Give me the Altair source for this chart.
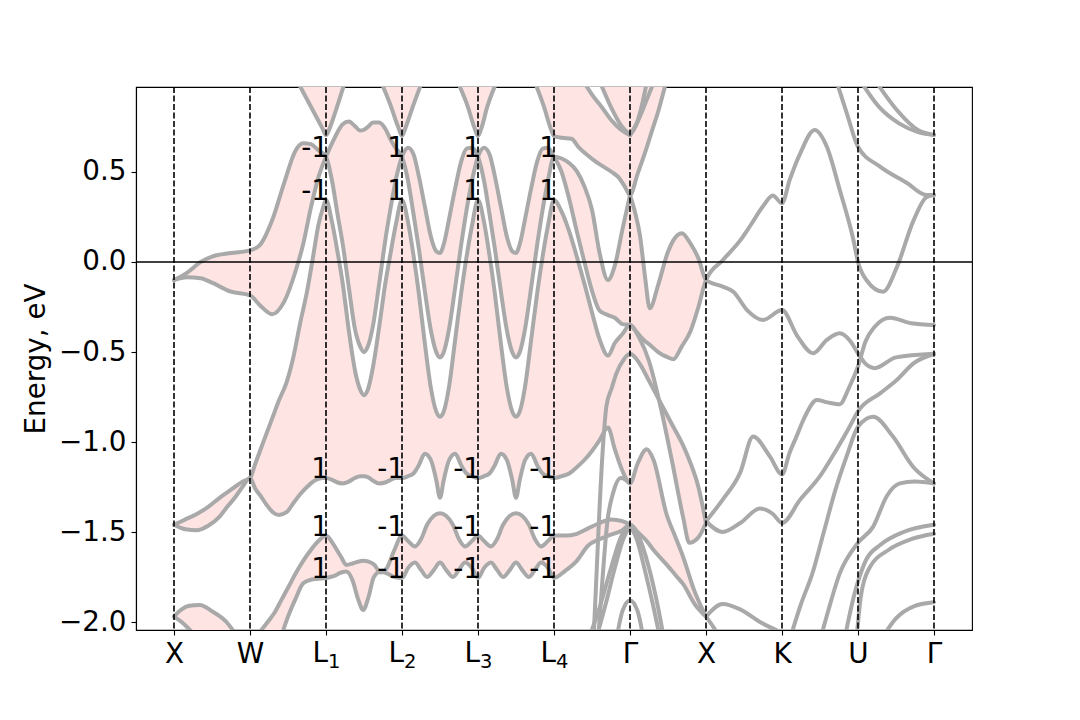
import json
import altair as alt
import pandas as pd

# ---------------- axes ----------------
TICK_POS = [0, 1, 2, 3, 4, 5, 6, 7, 8, 9, 10]
TICK_LABELS = ["X", "W", "L", "L", "L", "L", "\u0393", "X", "K", "U", "\u0393"]
TICK_SUBS = ["", "", "1", "2", "3", "4", "", "", "", "", ""]
Y_TICKS = [-2.0, -1.5, -1.0, -0.5, 0.0, 0.5]
X_DOMAIN = [-0.5, 10.5]
Y_DOMAIN = [-2.0444, 0.9722]
TOP = 1.05  # ceiling of shaded regions (clipped by the frame)

# ---------------- bands, X -> W -> L1 ----------------
x_XL1 = [0.0, 0.17, 0.35, 0.5, 0.75, 1.0, 1.13, 1.29, 1.45, 1.6, 1.7, 1.8, 1.9, 2.0]
a1_XL1 = [-0.10, -0.06, 0.0, 0.03, 0.05, 0.065, 0.094, 0.23, 0.44, 0.62, 0.66, 0.655, 0.62, 0.585]
a2_XL1 = [-0.10, -0.085, -0.09, -0.115, -0.165, -0.185, -0.24, -0.29, -0.22, -0.05, 0.1, 0.3, 0.47, 0.585]

x_lens = [0.0, 0.15, 0.3, 0.45, 0.6, 0.7, 0.8, 0.9, 1.0]
lens_up = [-1.46, -1.43, -1.40, -1.36, -1.31, -1.28, -1.25, -1.22, -1.2]
lens_lo = [-1.46, -1.485, -1.49, -1.465, -1.415, -1.36, -1.31, -1.25, -1.2]

x_WL1 = [1.0, 1.07, 1.14, 1.22, 1.3, 1.38, 1.48, 1.57, 1.66, 1.75, 1.83, 1.9, 1.96, 2.0]
b3_WL1 = [-1.2, -1.12, -1.04, -0.95, -0.86, -0.77, -0.67, -0.53, -0.34, -0.165, 0.03, 0.205, 0.3, 0.344]
b4_WL1 = [-1.2, -1.26, -1.30, -1.35, -1.39, -1.405, -1.39, -1.34, -1.29, -1.25, -1.22, -1.205, -1.2, -1.2]

x_cWL1 = [1.14, 1.25, 1.32, 1.41, 1.5, 1.6, 1.7, 1.8, 1.9, 2.0]
c_up_WL1 = [-2.05, -1.99, -1.95, -1.88, -1.81, -1.73, -1.66, -1.6, -1.55, -1.52]
c_lo_WL1 = [-2.2, -2.2, -2.2, -2.08, -1.97, -1.87, -1.785, -1.765, -1.76, -1.755]

x_D = [0.0, 0.1, 0.2, 0.34, 0.5, 0.69, 0.8]
d_up = [-1.97, -1.93, -1.91, -1.905, -1.94, -2.0, -2.06]
d_lo = [-1.97, -2.0, -2.04, -2.1, -2.15, -2.15, -2.15]

# ---------------- L1 -> L2 ----------------
x_12 = [2.0, 2.08, 2.15, 2.22, 2.3, 2.38, 2.45, 2.5, 2.55, 2.62, 2.7, 2.78, 2.85, 2.92, 3.0]
hump_12 = [0.585, 0.66, 0.72, 0.765, 0.78, 0.755, 0.73, 0.735, 0.75, 0.775, 0.775, 0.74, 0.68, 0.63, 0.585]
inner_12 = [0.585, 0.45, 0.27, 0.1, -0.14, -0.37, -0.47, -0.50, -0.47, -0.35, -0.12, 0.12, 0.3, 0.46, 0.585]
outer_12 = [0.344, 0.22, 0.06, -0.12, -0.38, -0.6, -0.71, -0.74, -0.71, -0.58, -0.36, -0.12, 0.05, 0.21, 0.344]
b4_12 = [-1.2, -1.21, -1.225, -1.23, -1.22, -1.2, -1.19, -1.19, -1.195, -1.215, -1.23, -1.225, -1.21, -1.2, -1.2]

x_c12 = [2.0, 2.1, 2.2, 2.27, 2.35, 2.42, 2.49, 2.56, 2.63, 2.72, 2.8, 2.9, 3.0]
c_up_12 = [-1.52, -1.57, -1.64, -1.683, -1.675, -1.665, -1.66, -1.665, -1.68, -1.725, -1.7, -1.6, -1.52]
c_lo_12 = [-1.755, -1.745, -1.725, -1.72, -1.77, -1.87, -1.933, -1.86, -1.75, -1.72, -1.73, -1.75, -1.755]

# ---------------- L2 -> L3 ----------------
x_23 = [3.0, 3.08, 3.15, 3.22, 3.3, 3.38, 3.45, 3.5, 3.55, 3.62, 3.7, 3.78, 3.85, 3.92, 4.0]
u_23 = [0.585, 0.635, 0.6, 0.48, 0.31, 0.14, 0.06, 0.05, 0.1, 0.24, 0.41, 0.56, 0.63, 0.635, 0.585]
inner_23 = [0.585, 0.45, 0.27, 0.08, -0.16, -0.38, -0.5, -0.53, -0.5, -0.37, -0.14, 0.1, 0.29, 0.45, 0.585]
outer_23 = [0.344, 0.22, 0.04, -0.17, -0.45, -0.7, -0.83, -0.86, -0.83, -0.69, -0.43, -0.17, 0.03, 0.2, 0.344]
b4_23 = [-1.2, -1.19, -1.175, -1.13, -1.065, -1.1, -1.21, -1.31, -1.21, -1.1, -1.065, -1.13, -1.175, -1.19, -1.2]

x_c23 = [3.0, 3.08, 3.17, 3.25, 3.33, 3.42, 3.5, 3.58, 3.67, 3.75, 3.83, 3.92, 4.0]
c_up_23 = [-1.52, -1.55, -1.58, -1.54, -1.46, -1.41, -1.396, -1.41, -1.46, -1.54, -1.58, -1.55, -1.52]
c_lo_23 = [-1.755, -1.70, -1.67, -1.71, -1.75, -1.71, -1.67, -1.71, -1.75, -1.71, -1.67, -1.70, -1.755]

# ---------------- L3 -> L4 ----------------
x_34 = [4.0, 4.08, 4.15, 4.22, 4.3, 4.38, 4.45, 4.5, 4.55, 4.62, 4.7, 4.78, 4.85, 4.92, 5.0]
u_34 = [0.585, 0.635, 0.6, 0.48, 0.31, 0.14, 0.06, 0.05, 0.1, 0.24, 0.41, 0.56, 0.63, 0.635, 0.585]
inner_34 = [0.585, 0.45, 0.27, 0.08, -0.16, -0.38, -0.5, -0.53, -0.5, -0.37, -0.14, 0.1, 0.29, 0.45, 0.585]
outer_34 = [0.344, 0.22, 0.04, -0.17, -0.45, -0.7, -0.83, -0.86, -0.83, -0.69, -0.43, -0.17, 0.03, 0.2, 0.344]
b4_34 = [-1.2, -1.19, -1.175, -1.13, -1.065, -1.1, -1.21, -1.31, -1.21, -1.1, -1.065, -1.13, -1.175, -1.19, -1.2]

x_c34 = [4.0, 4.08, 4.17, 4.25, 4.33, 4.42, 4.5, 4.58, 4.67, 4.75, 4.83, 4.92, 5.0]
c_up_34 = [-1.52, -1.55, -1.58, -1.54, -1.46, -1.41, -1.396, -1.41, -1.46, -1.54, -1.58, -1.55, -1.52]
c_lo_34 = [-1.755, -1.70, -1.67, -1.71, -1.75, -1.71, -1.67, -1.71, -1.75, -1.71, -1.67, -1.70, -1.755]

# ---------------- L4 -> Gamma ----------------
x_4G = [5.0, 5.1, 5.2, 5.3, 5.4, 5.5, 5.6, 5.71, 5.8, 5.9, 6.0]
lb_4G = [0.585, 0.575, 0.55, 0.505, 0.42, 0.29, 0.05, -0.1, -0.02, 0.18, 0.372]
ld_4G = [0.585, 0.5, 0.35, 0.17, 0.0, -0.16, -0.27, -0.295, -0.31, -0.345, -0.35]
lc_4G = [0.344, 0.28, 0.17, 0.03, -0.12, -0.28, -0.43, -0.52, -0.45, -0.4, -0.35]
b4_4G = [-1.2, -1.19, -1.175, -1.14, -1.1, -1.05, -0.99, -0.92, -1.04, -1.16, -1.23]

x_c4G = [5.0, 5.15, 5.3, 5.45, 5.6, 5.75, 5.9, 6.0]
c_up_4G = [-1.52, -1.52, -1.51, -1.48, -1.45, -1.43, -1.44, -1.46]
c_lo_4G = [-1.755, -1.715, -1.66, -1.575, -1.54, -1.515, -1.49, -1.46]

# conduction band: V at L4, flat part, V at Gamma (0.37)
x_top4 = [4.77, 4.87, 4.95, 5.0, 5.1, 5.23, 5.32, 5.45, 5.54, 5.65, 5.76, 5.85, 5.93, 6.0, 6.1, 6.2, 6.29, 6.37, 6.46]
top4 = [0.975, 0.86, 0.75, 0.70, 0.69, 0.685, 0.64, 0.59, 0.56, 0.53, 0.50, 0.47, 0.42, 0.372, 0.49, 0.61, 0.73, 0.835, 0.975]

# V shapes at L1, L2, L3
x_v1 = [1.66, 1.83, 1.95, 2.0, 2.05, 2.12, 2.23]
v1 = [0.975, 0.84, 0.745, 0.705, 0.745, 0.83, 0.975]
x_v2 = [2.75, 2.85, 2.95, 3.0, 3.05, 3.14, 3.24]
v2 = [0.975, 0.87, 0.75, 0.70, 0.75, 0.86, 0.975]
x_v3 = [3.76, 3.86, 3.95, 4.0, 4.05, 4.12, 4.22]
v3 = [0.975, 0.87, 0.75, 0.70, 0.75, 0.86, 0.975]

# U at Gamma (0.705)
x_arm1 = [5.43, 5.5, 5.63, 5.75, 5.88, 6.0]
arm1 = [0.975, 0.93, 0.86, 0.79, 0.735, 0.705]
arm2_ceiling = [TOP, TOP, 0.975, 0.86, 0.76, 0.705]
x_arm2 = [5.63, 5.75, 5.88, 6.0]
arm2 = [0.975, 0.86, 0.76, 0.705]
x_arm3 = [6.0, 6.08, 6.15, 6.21]
arm3 = [0.705, 0.76, 0.86, 0.975]
x_arm4 = [6.0, 6.1, 6.2, 6.29]
arm4 = [0.705, 0.78, 0.88, 0.975]

# ---------------- Gamma -> X ----------------
x_GX = [6.0, 6.07, 6.13, 6.2, 6.26, 6.37, 6.5, 6.57, 6.68, 6.8, 6.9, 7.0]
down_GX = [0.372, 0.27, 0.15, -0.09, -0.257, -0.128, 0.057, 0.12, 0.16, 0.1, 0.02, -0.1]
p_GX = [-0.35, -0.38, -0.41, -0.44, -0.46, -0.5, -0.53, -0.54, -0.47, -0.38, -0.25, -0.1]

x_wedge = [6.0, 6.12, 6.25, 6.4, 6.55, 6.7, 6.78, 6.9, 7.0]
wedge_b = [-0.51, -0.56, -0.66, -0.78, -0.9, -1.02, -1.1, -1.25, -1.45]
wedge_a = [-0.35, -0.42, -0.55, -0.8, -1.1, -1.42, -1.56, -1.53, -1.45]

x_low_GX = [6.0, 6.1, 6.22, 6.31, 6.48, 6.6, 6.7, 6.85, 7.0]
b4_GX = [-1.23, -1.12, -1.04, -1.1, -1.4, -1.53, -1.64, -1.83, -1.97]
c_GX = [-1.46, -1.5, -1.55, -1.6, -1.68, -1.74, -1.79, -1.9, -1.97]

x_archL = [5.52, 5.56, 5.6, 5.65, 5.69, 5.76, 5.82, 5.92, 6.0]
archL = [-2.1, -1.73, -1.36, -0.99, -0.8, -0.7, -0.62, -0.54, -0.51]
x_gm = [5.58, 5.64, 5.7, 5.78, 5.88, 6.0]
gm = [-2.1, -1.75, -1.45, -1.28, -1.2, -1.23]
x_g1 = [5.45, 5.6, 5.75, 5.88, 6.0, 6.12, 6.25, 6.35, 6.45]
g1 = [-2.1, -1.92, -1.7, -1.53, -1.46, -1.53, -1.7, -1.88, -2.1]
x_g2 = [5.55, 5.68, 5.8, 5.92, 6.0, 6.08, 6.2, 6.3, 6.4]
g2 = [-2.1, -1.9, -1.7, -1.53, -1.48, -1.53, -1.72, -1.9, -2.1]
x_g3 = [5.82, 5.9, 6.0, 6.1, 6.18]
g3 = [-2.1, -1.94, -1.88, -1.94, -2.1]

# ---------------- X -> K -> U -> Gamma ----------------
x_r1 = [7.0, 7.22, 7.45, 7.58, 7.75, 7.88, 8.0, 8.1, 8.24, 8.43, 8.59, 8.76, 8.94, 9.0, 9.11, 9.33, 9.51, 9.73, 9.9, 10.0]
r1 = [-0.1, 0.01, 0.12, 0.2, 0.31, 0.37, 0.326, 0.455, 0.604, 0.733, 0.64, 0.4, 0.122, 0.0, -0.1, -0.165, -0.03, 0.23, 0.36, 0.372]
x_r2 = [7.0, 7.22, 7.36, 7.54, 7.75, 8.0, 8.2, 8.41, 8.59, 8.76, 8.9, 9.0, 9.11, 9.22, 9.5, 10.0]
r2 = [-0.1, -0.137, -0.165, -0.267, -0.322, -0.267, -0.41, -0.507, -0.433, -0.396, -0.44, -0.507, -0.57, -0.59, -0.53, -0.51]
x_r3 = [7.0, 7.22, 7.45, 7.62, 7.84, 8.0, 8.1, 8.19, 8.3, 8.46, 8.6, 8.76, 8.88, 9.0, 9.1, 9.22, 9.42, 9.7, 10.0]
r3 = [-1.44, -1.32, -1.17, -0.97, -1.08, -1.18, -1.06, -0.97, -0.86, -0.767, -0.78, -0.79, -0.7, -0.58, -0.44, -0.36, -0.31, -0.34, -0.35]
x_r4 = [7.0, 7.22, 7.45, 7.71, 7.88, 8.0, 8.24, 8.5, 8.72, 8.89, 9.0, 9.29, 9.51, 9.73, 10.0]
r4 = [-1.44, -1.5, -1.45, -1.37, -1.40, -1.45, -1.32, -1.19, -1.04, -0.915, -0.83, -0.73, -0.656, -0.563, -0.511]
x_r5 = [8.1, 8.25, 8.4, 8.55, 8.7, 8.85, 9.0, 9.2, 9.46, 9.73, 10.0]
r5 = [-2.1, -1.9, -1.73, -1.5, -1.27, -1.08, -0.915, -0.86, -0.97, -1.14, -1.23]
x_r6 = [8.5, 8.6, 8.76, 9.0, 9.2, 9.38, 9.55, 9.75, 10.0]
r6 = [-2.1, -1.95, -1.73, -1.56, -1.47, -1.3, -1.23, -1.22, -1.23]
x_r7 = [8.82, 8.95, 9.1, 9.3, 9.6, 10.0]
r7 = [-2.1, -1.85, -1.66, -1.57, -1.5, -1.46]
x_r8 = [8.98, 9.04, 9.15, 9.4, 9.7, 10.0]
r8 = [-2.1, -1.85, -1.7, -1.6, -1.54, -1.51]
x_r9 = [9.3, 9.5, 9.75, 10.0]
r9 = [-2.1, -1.98, -1.91, -1.89]
x_r10 = [7.0, 7.22, 7.45, 7.71, 8.0]
r10 = [-1.97, -1.9, -1.93, -2.0, -2.06]
x_r11 = [7.0, 7.1, 7.2]
r11 = [-1.97, -2.03, -2.1]
x_r12 = [8.72, 8.85, 9.0, 9.29, 9.64, 9.9, 10.0]
r12 = [1.0, 0.83, 0.64, 0.53, 0.44, 0.372, 0.372]
x_r13 = [9.04, 9.28, 9.54, 9.8, 10.0]
r13 = [1.0, 0.86, 0.77, 0.72, 0.706]
x_r14 = [9.24, 9.5, 9.8, 10.0]
r14 = [1.0, 0.85, 0.73, 0.706]

# ---------------- annotations ----------------
label_x = [2, 2, 3, 3, 4, 4, 5, 5, 2, 2, 2, 3, 3, 3, 4, 4, 4, 5, 5, 5]
label_E = [0.585, 0.344, 0.585, 0.344, 0.585, 0.344, 0.585, 0.344,
           -1.2, -1.52, -1.755, -1.2, -1.52, -1.755, -1.2, -1.52, -1.755, -1.2, -1.52, -1.755]
label_text = ["-1", "-1", "1", "1", "1", "1", "1", "1",
              "1", "1", "1", "-1", "-1", "-1", "-1", "-1", "-1", "-1", "-1", "-1"]


# ---------------- tables ----------------
def chain(*parts):
    out = []
    for xs, ys in parts:
        for x, y in zip(xs, ys):
            if out and abs(out[-1][0] - x) < 1e-9:
                continue
            out.append((x, y))
    return out


lines = {
    "A1": chain((x_XL1, a1_XL1), (x_12, inner_12), (x_23, u_23), (x_34, inner_34), (x_4G, lb_4G)),
    "A2": chain((x_XL1, a2_XL1), (x_12, hump_12), (x_23, inner_23), (x_34, u_34), (x_4G, ld_4G),
                (x_GX, p_GX), (x_r1, r1)),
    "B1": chain((x_lens, lens_up), (x_WL1, b3_WL1), (x_12, outer_12), (x_23, outer_23), (x_34, outer_34),
                (x_4G, lc_4G), (x_wedge, wedge_a)),
    "B2": chain((x_lens, lens_lo), (x_WL1, b4_WL1), (x_12, b4_12), (x_23, b4_23), (x_34, b4_34),
                (x_4G, b4_4G), (x_low_GX, b4_GX)),
    "C1": chain((x_cWL1, c_up_WL1), (x_c12, c_up_12), (x_c23, c_up_23), (x_c34, c_up_34), (x_c4G, c_up_4G)),
    "C2": chain((x_cWL1, c_lo_WL1), (x_c12, c_lo_12), (x_c23, c_lo_23), (x_c34, c_lo_34), (x_c4G, c_lo_4G),
                (x_low_GX, c_GX)),
    "D1": chain((x_D, d_up)),
    "D2": chain((x_D, d_lo)),
    "T4": chain((x_top4, top4)),
    "DN": chain((x_GX, down_GX), (x_r2, r2)),
    "V1": chain((x_v1, v1)),
    "V2": chain((x_v2, v2)),
    "V3": chain((x_v3, v3)),
    "ARM1": chain((x_arm1, arm1)),
    "ARM2": chain((x_arm2, arm2)),
    "ARM3": chain((x_arm3, arm3)),
    "ARM4": chain((x_arm4, arm4)),
    "ARCH": chain((x_archL, archL), (x_wedge, wedge_b)),
    "GM": chain((x_gm, gm)),
    "G1": chain((x_g1, g1)),
    "G2": chain((x_g2, g2)),
    "G3": chain((x_g3, g3)),
    "R3": chain((x_r3, r3)),
    "R4": chain((x_r4, r4)),
    "R5": chain((x_r5, r5)),
    "R6": chain((x_r6, r6)),
    "R7": chain((x_r7, r7)),
    "R8": chain((x_r8, r8)),
    "R9": chain((x_r9, r9)),
    "R10": chain((x_r10, r10)),
    "R11": chain((x_r11, r11)),
    "R12": chain((x_r12, r12)),
    "R13": chain((x_r13, r13)),
    "R14": chain((x_r14, r14)),
}

line_rows = []
for name, pts in lines.items():
    for i, (x, e) in enumerate(pts):
        line_rows.append({"band": name, "x": x, "E": e, "i": i})
lines_df = pd.DataFrame(line_rows)

pink_regions = {
    "pA0": (x_XL1, a2_XL1, a1_XL1),
    "pA1": (x_12, inner_12, hump_12),
    "pA2": (x_23, inner_23, u_23),
    "pA3": (x_34, inner_34, u_34),
    "pA4": (x_4G, ld_4G, lb_4G),
    "pA5": (x_GX, p_GX, down_GX),
    "pB0": (x_lens, lens_lo, lens_up),
    "pB1": (x_WL1, b4_WL1, b3_WL1),
    "pB2": (x_12, b4_12, outer_12),
    "pB3": (x_23, b4_23, outer_23),
    "pB4": (x_34, b4_34, outer_34),
    "pB5": (x_4G, b4_4G, lc_4G),
    "pW": (x_wedge, wedge_a, wedge_b),
    "pC0": (x_cWL1, c_lo_WL1, c_up_WL1),
    "pC1": (x_c12, c_lo_12, c_up_12),
    "pC2": (x_c23, c_lo_23, c_up_23),
    "pC3": (x_c34, c_lo_34, c_up_34),
    "pC4": (x_c4G, c_lo_4G, c_up_4G),
    "pC5": (x_low_GX, c_GX, b4_GX),
    "pD": (x_D, d_lo, d_up),
    "pV1": (x_v1, v1, [TOP] * len(x_v1)),
    "pV2": (x_v2, v2, [TOP] * len(x_v2)),
    "pV3": (x_v3, v3, [TOP] * len(x_v3)),
    "pT4": (x_top4, top4, [TOP] * len(x_top4)),
}
white_regions = {
    "wU": (x_arm1, arm1, arm2_ceiling),
}

# ---------------- chart ----------------
FONT = "DejaVu Sans"
FS = 27.8
x_scale = alt.Scale(domain=X_DOMAIN, nice=False, zero=False)
y_scale = alt.Scale(domain=Y_DOMAIN, nice=False, zero=False)
plain_labels = [lab if sub == "" else "" for lab, sub in zip(TICK_LABELS, TICK_SUBS)]
x_axis = alt.Axis(values=TICK_POS, title=None, grid=False,
                  labelExpr=json.dumps(plain_labels) + "[datum.value]",
                  labelFontSize=FS, tickSize=5, labelPadding=5,
                  labelFlush=False, labelOverlap=False, labelBound=False)
y_axis = alt.Axis(values=Y_TICKS, title="Energy, eV", grid=False,
                  labelExpr="replace(format(datum.value, '.1f'), '-', '\u2212')",
                  labelFontSize=FS, titleFontSize=FS, tickSize=5, labelPadding=5,
                  titlePadding=8, labelFlush=False, labelOverlap=False)


def X(field="x"):
    return alt.X(f"{field}:Q", scale=x_scale, axis=x_axis)


def Y(field="E"):
    return alt.Y(f"{field}:Q", scale=y_scale, axis=y_axis)


def area_layer(xs, lo, hi, color):
    df = pd.DataFrame({"x": xs, "lo": lo, "hi": hi})
    return alt.Chart(df).mark_area(color=color, opacity=1, interpolate="monotone",
                                   clip=True, orient="vertical").encode(
        x=X(), y=Y("lo"), y2=alt.Y2("hi:Q"))


fill_layers = [area_layer(xs, lo, hi, "#ffe4e4") for (xs, lo, hi) in pink_regions.values()]
fill_layers += [area_layer(xs, lo, hi, "white") for (xs, lo, hi) in white_regions.values()]

vlines_df = pd.DataFrame({"x": TICK_POS})
zero_df = pd.DataFrame({"E": [0.0]})
labels_df = pd.DataFrame({"x": label_x, "E": label_E, "text": label_text})
sub_df = pd.DataFrame({
    "x": [p for p, s in zip(TICK_POS, TICK_SUBS) if s],
    "E": [Y_DOMAIN[0]] * sum(1 for s in TICK_SUBS if s),
    "main": [lab for lab, s in zip(TICK_LABELS, TICK_SUBS) if s],
    "sub": [s for s in TICK_SUBS if s],
})

bands = alt.Chart(lines_df).mark_line(color="#a9a9a9", strokeWidth=4, interpolate="monotone",
                                      clip=True, strokeCap="round", strokeJoin="round").encode(
    x=X(), y=Y(), detail="band:N", order="i:Q")
vlines = alt.Chart(vlines_df).mark_rule(color="black", strokeWidth=1.6, strokeDash=[6, 2.5]).encode(x=X())
zero = alt.Chart(zero_df).mark_rule(color="black", strokeWidth=1.6).encode(y=Y())
labels = alt.Chart(labels_df).mark_text(align="right", baseline="alphabetic", dx=3, font=FONT,
                                        fontSize=FS, color="black").encode(
    x=X(), y=Y(), text="text:N")
tick_main = alt.Chart(sub_df).mark_text(align="right", baseline="alphabetic", dx=2, dy=32, font=FONT,
                                        fontSize=FS, color="black").encode(
    x=X(), y=Y(), text="main:N")
tick_sub = alt.Chart(sub_df).mark_text(align="left", baseline="alphabetic", dx=2, dy=38, font=FONT,
                                       fontSize=19.5, color="black").encode(
    x=X(), y=Y(), text="sub:N")

chart = alt.layer(*fill_layers, bands, vlines, zero, labels, tick_main, tick_sub).properties(
    width=836, height=543,
    padding={"left": 128, "top": 79, "right": 100, "bottom": 60},
    autosize=alt.AutoSizeParams(type="none"),
).configure_view(stroke="black", strokeWidth=1.1).configure_axis(
    labelFont=FONT, titleFont=FONT, labelColor="black", titleColor="black",
    tickColor="black", domainColor="black", domainWidth=1.1, tickWidth=1.1,
    titleFontWeight="normal",
)

chart.save("out.html", embed_options={"renderer": "svg", "actions": False})
